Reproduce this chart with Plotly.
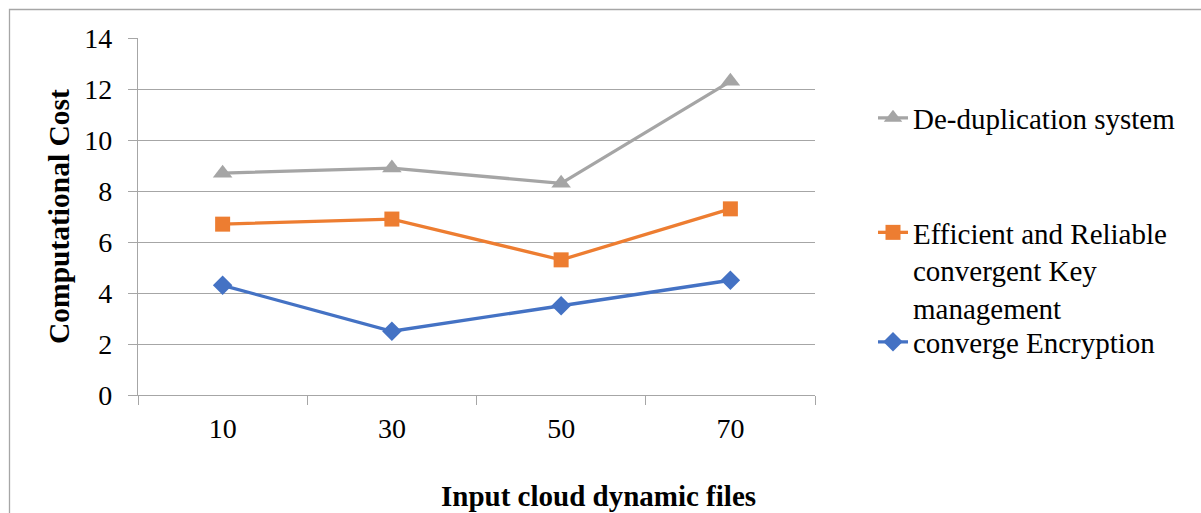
import plotly.graph_objects as go

categories = ["10", "30", "50", "70"]
dedup = [8.7, 8.9, 8.3, 12.3]
efficient = [6.7, 6.9, 5.3, 7.3]
converge = [4.3, 2.5, 3.5, 4.5]

names = ["converge Encryption", "Efficient and Reliable<br>convergent Key<br>management", "De-duplication system"]

W, H = 1201, 513
L, R, T, B = 138, 815, 38, 395
pw, ph = R - L, B - T

def px(x):
    return (x - L) / pw

def py(y):
    return (B - y) / ph

FONT = "Liberation Serif, Times New Roman, serif"
GRID = "#A6A6A6"

fig = go.Figure()
fig.add_trace(go.Scatter(
    x=categories, y=converge, name=names[0], mode="lines+markers",
    line=dict(color="#4472C4", width=3.3),
    marker=dict(symbol="diamond", size=15, color="#4472C4"),
    legend="legend3"))
fig.add_trace(go.Scatter(
    x=categories, y=efficient, name=names[1], mode="lines+markers",
    line=dict(color="#ED7D31", width=3.3),
    marker=dict(symbol="square", size=15, color="#ED7D31"),
    legend="legend2"))
fig.add_trace(go.Scatter(
    x=categories, y=dedup, name=names[2], mode="lines+markers",
    line=dict(color="#A5A5A5", width=3.3),
    marker=dict(symbol="triangle-up", size=17, color="#A5A5A5"),
    legend="legend"))

leg_common = dict(font=dict(family=FONT, size=29, color="#000"), bgcolor="rgba(0,0,0,0)",
                  xanchor="left", valign="top", itemclick=False)

fig.update_layout(
    width=W, height=H,
    margin=dict(l=L, r=W - R, t=T, b=H - B),
    paper_bgcolor="white", plot_bgcolor="white",
    font=dict(family=FONT, size=28, color="#000"),
    showlegend=True,
    legend=dict(x=px(873), y=py(118), yanchor="middle", **leg_common),
    legend2=dict(x=px(873), y=py(207), yanchor="top", **leg_common),
    legend3=dict(x=px(873), y=py(342), yanchor="middle", **leg_common),
    xaxis=dict(type="category", tickson="boundaries", ticks="outside", ticklen=9,
               tickcolor=GRID, showline=True, linecolor=GRID, linewidth=1.3,
               showgrid=False, tickfont=dict(size=28), ticklabelstandoff=8,
               range=[-0.5, 3.5], fixedrange=True),
    yaxis=dict(range=[0, 14], dtick=2, tick0=0, ticks="outside", ticklen=9, tickcolor=GRID,
               showline=True, linecolor=GRID, linewidth=1.3, showgrid=True,
               gridcolor=GRID, gridwidth=1.3, zeroline=False,
               tickfont=dict(size=28), ticklabelstandoff=10, fixedrange=True),
    annotations=[
        dict(text="<b>Computational Cost</b>", textangle=-90, xref="paper", yref="paper",
             x=px(59), y=py(217), xanchor="center", yanchor="middle", showarrow=False,
             font=dict(family=FONT, size=29.5, color="#000")),
        dict(text="<b>Input cloud dynamic files</b>", xref="paper", yref="paper",
             x=px(598), y=py(496), xanchor="center", yanchor="middle", showarrow=False,
             font=dict(family=FONT, size=29, color="#000")),
    ],
    shapes=[
        dict(type="rect", xref="paper", yref="paper", x0=px(9.5), x1=px(1260),
             y0=py(560), y1=py(9.5), line=dict(color="#A6A6A6", width=1.3),
             fillcolor="rgba(0,0,0,0)", layer="below"),
    ],
)

fig.write_html("out.html")
